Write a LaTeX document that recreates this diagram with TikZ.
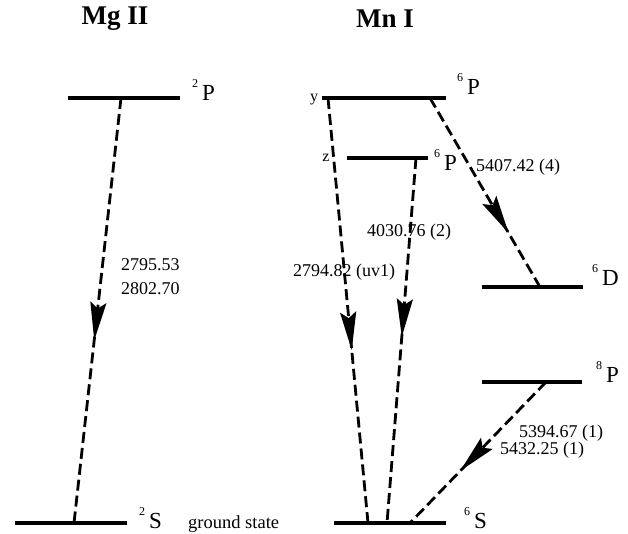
\documentclass[tikz,border=0pt]{standalone}
\usepackage{fontspec}
\setmainfont{Liberation Serif}
\usetikzlibrary{arrows.meta, decorations.markings}

\newcommand{\term}[2]{{\fontsize{12}{12}\selectfont\raisebox{13pt}{#1}}\hspace{4pt}{\fontsize{23}{24}\selectfont #2}}

\begin{document}
\begin{tikzpicture}[x=1pt, y=-1pt,
    lvline/.style={line width=3.5pt},
    trans/.style={line width=2.8pt, dash pattern=on 11pt off 5pt, postaction={decorate},
        decoration={markings, mark=at position #1 with {\arrow{Stealth[length=38pt, width=16pt, inset=6pt]}}}},
    wl/.style={font=\fontsize{18}{19}\selectfont, anchor=base west, inner sep=0pt},
    tm/.style={anchor=base west, inner sep=0pt}]

        \useasboundingbox (0,0) rectangle (628,533);

        %TITLES
        \node[font=\fontsize{27}{28}\selectfont\bfseries] (mgtitle) at (115,19) {Mg II};
        \node[font=\fontsize{27}{28}\selectfont\bfseries] (mntitle) at (385,19) {Mn I};

        % MG II LEVELS
        \draw[lvline] (68,98) -- (180,98);
        \draw[lvline] (15,523) -- (127,523);
        \node[tm] (mgP) at (192,100) {\term{2}{P}};
        \node[tm] (mgS) at (139,528) {\term{2}{S}};
        \node[tm, font=\fontsize{18.5}{19}\selectfont] (ground) at (188,528) {ground state};

        \coordinate (mgPa) at (121,98);
        \coordinate (mgSa) at (74,523);
        \draw[trans=.57] (mgPa) -- (mgSa);
        \node[wl] (mgw1) at (121,270) {2795.53};
        \node[wl] (mgw2) at (121,294) {2802.70};

        % MN I LEVELS
        \draw[lvline] (322,98) -- (446,98);
        \draw[lvline] (347,158) -- (428,158);
        \draw[lvline] (482,287) -- (583,287);
        \draw[lvline] (482,382) -- (582,382);
        \draw[lvline] (334,523) -- (446,523);
        \node[font=\fontsize{16}{17}\selectfont] (y) at (314,100) {y};
        \node[font=\fontsize{16}{17}\selectfont] (z) at (326,158) {z};
        \node[tm] (yP) at (457,94) {\term{6}{P}};
        \node[tm] (zP) at (434,170) {\term{6}{P}};
        \node[tm] (D) at (592,285) {\term{6}{D}};
        \node[tm] (P8) at (596,382) {\term{8}{P}};
        \node[tm] (S) at (464,528) {\term{6}{S}};

        % TRANSITIONS (NOTE ARROW PLACED MID LINE)
        \coordinate (ya) at (328,98);
        \coordinate (yb) at (430,98);
        \coordinate (za) at (416,158);
        \coordinate (Da) at (540,287);
        \coordinate (P8a) at (546,382);
        \coordinate (Sa) at (368,523);
        \coordinate (Sb) at (387,523);
        \coordinate (Sc) at (410,523);
        \draw[trans=.593] (ya) -- (Sa);
        \draw[trans=.49] (za) -- (Sb);
        \draw[trans=.714] (yb) -- (Da);
        \draw[trans=.63] (P8a) -- (Sc);

        \node[wl] (w1) at (476,171) {5407.42 (4)};
        \node[wl] (w2) at (367,236) {4030.76 (2)};
        \node[wl] (w3) at (293,276) {2794.82 (uv1)};
        \node[wl] (w4) at (519,437) {5394.67 (1)};
        \node[wl] (w5) at (500,454) {5432.25 (1)};

    \end{tikzpicture}
\end{document}
